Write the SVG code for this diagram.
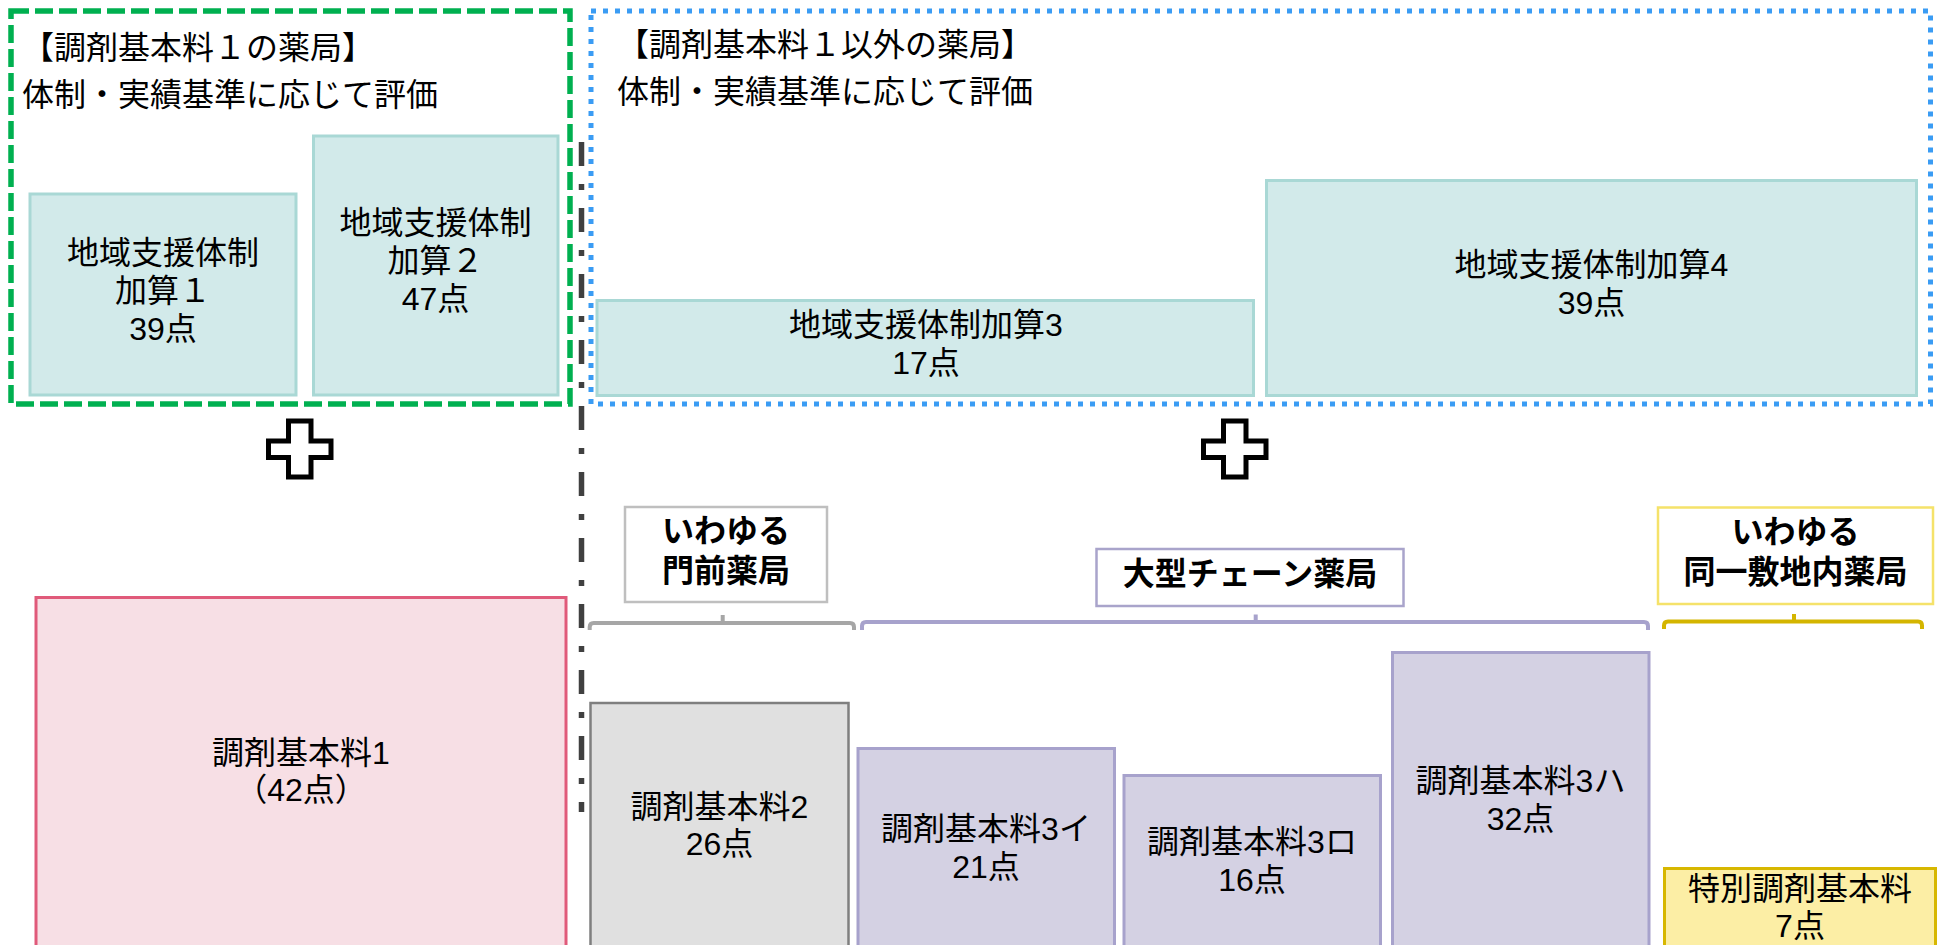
<svg xmlns="http://www.w3.org/2000/svg" width="1949" height="945" viewBox="0 0 1949 945">
<style>
text{font-family:"Liberation Sans","Noto Sans CJK JP",sans-serif;font-size:32px;fill:#000;text-anchor:middle}
.st{text-anchor:start}
.bd{font-weight:bold}
.teal{fill:#D2EAEA;stroke:#A9D8D5;stroke-width:3}
.lav{fill:#D4D1E3;stroke:#A7A2CC;stroke-width:3}
.brk{fill:none;stroke-width:4;stroke-linecap:butt}
.plus{fill:#fff;stroke:#000;stroke-width:5;stroke-linejoin:miter}
</style>
<rect width="1949" height="945" fill="#fff"/>

<g id="group-kihon1">
<rect x="11" y="11" width="559" height="393" fill="none" stroke="#00B050" stroke-width="5.5" stroke-dasharray="18 6"/>
<text class="st" x="22" y="59">【調剤基本料１の薬局】</text>
<text class="st" x="22" y="106">体制・実績基準に応じて評価</text>
</g>

<g id="group-other">
<rect x="591" y="11" width="1339.5" height="393" fill="none" stroke="#3A9CF4" stroke-width="5" stroke-dasharray="5 7"/>
<text class="st" x="617" y="56">【調剤基本料１以外の薬局】</text>
<text class="st" x="617" y="103">体制・実績基準に応じて評価</text>
</g>

<g id="node-kasan1">
<rect class="teal" x="30" y="194" width="266" height="201"/>
<text x="163" y="264">地域支援体制</text>
<text x="163" y="302">加算１</text>
<text x="163" y="340">39点</text>
</g>

<g id="node-kasan2">
<rect class="teal" x="313.5" y="136" width="244.5" height="259"/>
<text x="435.5" y="234">地域支援体制</text>
<text x="435.5" y="272">加算２</text>
<text x="435.5" y="310">47点</text>
</g>

<g id="node-kasan3">
<rect class="teal" x="597" y="300.5" width="656.5" height="95"/>
<text x="926" y="336">地域支援体制加算3</text>
<text x="926" y="374">17点</text>
</g>

<g id="node-kasan4">
<rect class="teal" x="1266.5" y="180.5" width="650" height="215"/>
<text x="1591.5" y="276">地域支援体制加算4</text>
<text x="1591.5" y="314">39点</text>
</g>

<g id="plus-left">
<path class="plus" d="M288.5 421H311V441H331V457.5H311V477H288.5V457.5H268.5V441H288.5Z"/>
</g>
<g id="plus-right">
<path class="plus" transform="translate(935 0)" d="M288.5 421H311V441H331V457.5H311V477H288.5V457.5H268.5V441H288.5Z"/>
</g>

<g id="node-kihon1">
<rect x="36" y="597.5" width="530" height="400" fill="#F7DFE5" stroke="#E05A7A" stroke-width="3"/>
<text x="301" y="764">調剤基本料1</text>
<text x="301" y="801">（42点）</text>
</g>

<g id="label-monzen">
<rect x="625" y="507" width="202" height="95" fill="#fff" stroke="#BFBFBF" stroke-width="2.5"/>
<text class="bd" x="726" y="542">いわゆる</text>
<text class="bd" x="726" y="582">門前薬局</text>
</g>

<g id="label-chain">
<rect x="1096.5" y="549" width="307" height="57" fill="#fff" stroke="#A9A4CB" stroke-width="2.5"/>
<text class="bd" x="1250" y="584.5">大型チェーン薬局</text>
</g>

<g id="label-shikichi">
<rect x="1658" y="507.5" width="275" height="96.5" fill="#fff" stroke="#F5E26A" stroke-width="2.5"/>
<text class="bd" x="1795.5" y="543">いわゆる</text>
<text class="bd" x="1795.5" y="583">同一敷地内薬局</text>
</g>

<g id="node-kihon2">
<rect x="590.5" y="703" width="258" height="300" fill="#E0E0E0" stroke="#7F7F7F" stroke-width="2.5"/>
<text x="719.5" y="818">調剤基本料2</text>
<text x="719.5" y="854.5">26点</text>
</g>

<g id="node-kihon3i">
<rect class="lav" x="858" y="748.5" width="256.5" height="300"/>
<text x="986" y="839.5">調剤基本料3イ</text>
<text x="986" y="878">21点</text>
</g>

<g id="node-kihon3ro">
<rect class="lav" x="1124" y="775.5" width="256.5" height="300"/>
<text x="1252" y="853">調剤基本料3ロ</text>
<text x="1252" y="891">16点</text>
</g>

<g id="node-kihon3ha">
<rect class="lav" x="1392.5" y="652.5" width="256.5" height="400"/>
<text x="1520.5" y="792">調剤基本料3ハ</text>
<text x="1520.5" y="829.5">32点</text>
</g>

<g id="node-tokubetsu">
<rect x="1664.5" y="868.5" width="271" height="200" fill="#FCEEA5" stroke="#D7B700" stroke-width="3"/>
<text x="1800" y="899.5">特別調剤基本料</text>
<text x="1800" y="937">7点</text>
</g>

<g id="connectors">
<line x1="581.5" y1="142" x2="581.5" y2="812" stroke="#404040" stroke-width="5.5" stroke-dasharray="24 18 6 18"/>
<path class="brk" stroke="#A6A6A6" d="M589.7 630V627Q589.7 623 593.7 623H850Q854 623 854 627V630M722.7 623V615"/>
<path class="brk" stroke="#A7A2CC" d="M862 630V626Q862 622 866 622H1644Q1648 622 1648 626V630M1255.7 622V614.5"/>
<path class="brk" stroke="#D4B500" d="M1664 629V625.5Q1664 621.5 1668 621.5H1918Q1922 621.5 1922 625.5V629M1794 621.5V614"/>
</g>
</svg>
